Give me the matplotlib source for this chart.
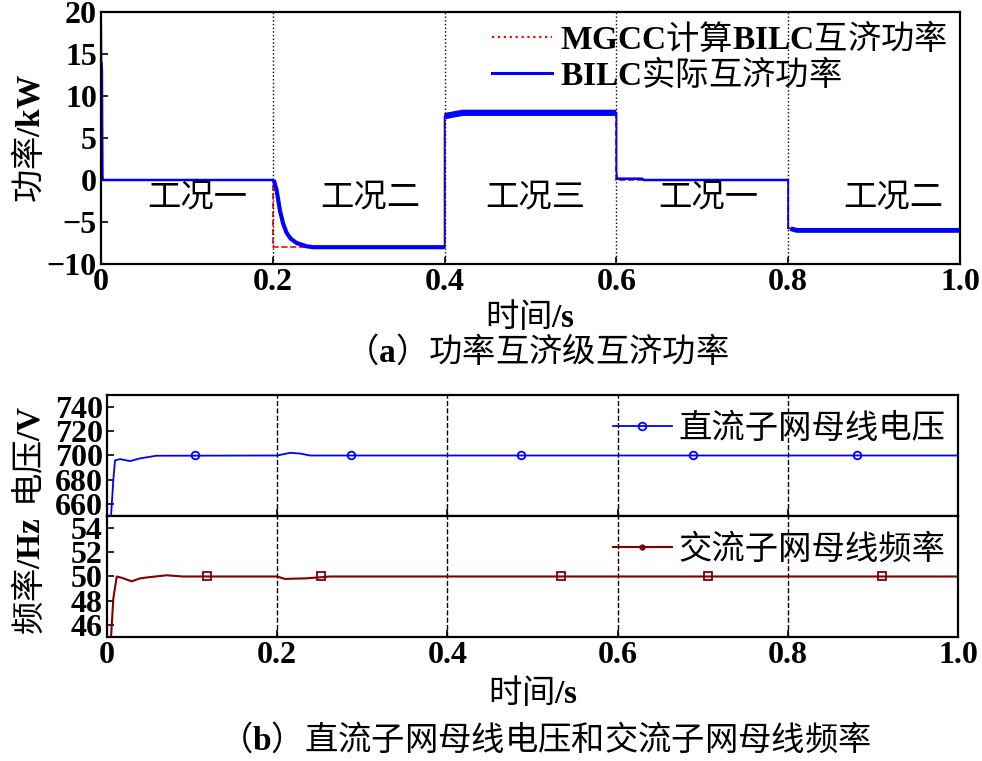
import matplotlib
matplotlib.use('Agg')
import matplotlib.pyplot as plt
import numpy as np
from matplotlib.lines import Line2D
from matplotlib.font_manager import FontProperties

plt.rcParams['font.family'] = ['Liberation Serif', 'Noto Sans CJK SC']
plt.rcParams['font.weight'] = 'bold'
plt.rcParams['mathtext.fontset'] = 'custom'
plt.rcParams['mathtext.rm'] = 'Liberation Serif'
plt.rcParams['mathtext.bf'] = 'Liberation Serif:bold'
plt.rcParams['axes.unicode_minus'] = True

# (a) 功率互济级互济功率
stage_t = [0, 0.2, 0.4, 0.6, 0.8, 1.0]
p_ref = [0, -8, 8, 0, -6]          # MGCC计算值
stage_names = ['工况一', '工况二', '工况三', '工况一', '工况二']
name_t = [0.112, 0.313, 0.505, 0.707, 0.922]
name_p = -2.0

# BILC实际互济功率
t_p = [0, 0.0005, 0.001, 0.0015, 0.002, 0.2, 0.2012, 0.2045, 0.2084, 0.212,
       0.216, 0.221, 0.2277, 0.2394, 0.247, 0.4, 0.4, 0.401, 0.41, 0.421,
       0.6, 0.6, 0.601, 0.63, 0.632, 0.8, 0.8, 0.803, 0.81, 1.0]
p_act = [20, 14, 13, 0.5, 0, 0, 0, -1.3, -3.7, -5.2,
         -6.3, -7.0, -7.5, -7.9, -8.0, -8.0, 7.6, 7.6, 7.8, 8.0,
         8.0, 1.0, 0.15, 0.15, 0, 0, -5.7, -5.8, -6.0, -6.0]
stage_lw = [1.8, 3.0, 4.5, 1.8, 3.5]

# (b) 直流子网母线电压 / 交流子网母线频率
t_v = [0.0047, 0.0074, 0.0094, 0.0153, 0.027, 0.0388, 0.058, 0.2, 0.215,
       0.227, 0.2385, 1.0]
v_dc = [650, 680, 696, 697, 695.4, 697.6, 699.8, 700, 702.2, 701.6, 700, 700]
mark_t_v = [0.103, 0.287, 0.486, 0.689, 0.881]
mark_v = [700, 700, 700, 700, 700]

t_f = [0.0047, 0.0074, 0.0114, 0.017, 0.029, 0.0388, 0.0505, 0.07, 0.089,
       0.2, 0.209, 0.2347, 0.262, 1.0, 1.0, 1.0]
f_ac = [45, 48.2, 50, 49.9, 49.6, 49.85, 49.95, 50.1, 50.0,
        50.0, 49.8, 49.85, 50.0, 50.0, 55, 45]
mark_t_f = [0.1175, 0.2515, 0.533, 0.706, 0.911]
mark_f = [50, 50, 50, 50, 50]

x_ticks = [0, 0.2, 0.4, 0.6, 0.8, 1.0]
x_ticklabels = ['0', '0.2', '0.4', '0.6', '0.8', '1.0']

cjk = FontProperties(family='Noto Sans CJK SC', size=24, weight='normal')
cjk_leg = FontProperties(family='Noto Sans CJK SC', size=24, weight='normal')
tick_fs = 23

fig = plt.figure(figsize=(9.82, 7.61), dpi=100)
ax1 = fig.add_axes([0.1029, 0.6531, 0.8747, 0.3311])
ax2 = fig.add_axes([0.109, 0.3220, 0.8666, 0.1589])
ax3 = fig.add_axes([0.109, 0.1629, 0.8666, 0.1591])


def style(ax):
    for s in ax.spines.values():
        s.set_linewidth(1.6)
    ax.tick_params(direction='in', length=5, width=1.2, labelsize=tick_fs,
                   pad=3, top=False, right=False)
    ax.set_xlim(0, 1.0)
    ax.set_xticks(x_ticks)


# ---- 上图 ----
style(ax1)
for x in stage_t[1:-1]:
    ax1.axvline(x, color='black', ls=':', lw=1.0)
ax1.stairs(p_ref, stage_t, baseline=None, color='red', ls='--', lw=1.2)
t_arr = np.array(t_p)
p_arr = np.array(p_act)
# 细线画全程（含跳变），各工况稳态段用粗线叠加表示纹波
ax1.plot(t_arr, p_arr, color='blue', lw=1.3)
for i in range(len(stage_lw)):
    i0 = np.searchsorted(t_arr, stage_t[i], side='right')
    i1 = np.searchsorted(t_arr, stage_t[i + 1], side='left')
    ax1.plot(t_arr[i0:i1 + 1], p_arr[i0:i1 + 1], color='blue',
             lw=stage_lw[i], solid_capstyle='butt')
ax1.set_ylim(-10, 20)
ax1.set_yticks([-10, -5, 0, 5, 10, 15, 20])
ax1.set_xticklabels(x_ticklabels)
for t, n in zip(name_t, stage_names):
    ax1.text(t, name_p, n, ha='center', va='center', fontproperties=cjk)
h1 = [Line2D([], [], color='red', ls=':', lw=1.6),
      Line2D([], [], color='blue', lw=2.2)]
ax1.legend(h1, [r'$\mathbf{MGCC}$计算$\mathbf{BILC}$互济功率',
                r'$\mathbf{BILC}$实际互济功率'],
           prop=cjk_leg, frameon=False, loc='center right',
           bbox_to_anchor=(0.986, 0.821), borderpad=0, borderaxespad=0,
           handlelength=1.8, handletextpad=0.25, labelspacing=0.0)

# ---- 下图：电压 ----
style(ax2)
for x in stage_t[1:-1]:
    ax2.axvline(x, color='black', ls='--', lw=1.0)
ax2.plot(t_v, v_dc, color='blue', lw=1.3)
ax2.plot(mark_t_v, mark_v, ls='none', marker='o', ms=5.5, mfc='none',
         mec='blue', mew=1.3)
ax2.set_ylim(650, 750)
ax2.set_yticks([660, 680, 700, 720, 740])
ax2.set_xticklabels([])
h2 = [Line2D([], [], color='blue', lw=1.3, marker='o', ms=5.5, mfc='none',
             mew=1.3)]
ax2.legend(h2, ['直流子网母线电压'], prop=cjk_leg, frameon=False,
           loc='center right', bbox_to_anchor=(0.985, 0.727), borderpad=0,
           borderaxespad=0, handlelength=1.75, handletextpad=0.2)

# ---- 下图：频率 ----
style(ax3)
for x in stage_t[1:-1]:
    ax3.axvline(x, color='black', ls='--', lw=1.0)
ax3.plot(t_f, f_ac, color='#800000', lw=1.5)
ax3.plot(mark_t_f, mark_f, ls='none', marker='s', ms=5.5, mfc='none',
         mec='#800000', mew=1.3)
ax3.set_ylim(45, 55)
ax3.set_yticks([46, 48, 50, 52, 54])
ax3.set_xticklabels(x_ticklabels)
h3 = [Line2D([], [], color='#800000', lw=1.5, marker='o', ms=3.5,
             mfc='#800000', mec='#800000')]
ax3.legend(h3, ['交流子网母线频率'], prop=cjk_leg, frameon=False,
           loc='center right', bbox_to_anchor=(0.985, 0.727), borderpad=0,
           borderaxespad=0, handlelength=1.75, handletextpad=0.2)

for ax in (ax1, ax2, ax3):
    for lab in ax.get_xticklabels() + ax.get_yticklabels():
        lab.set_fontweight('bold')

# 轴标题与图注
fig.text(0.031, 1 - 138 / 761, r'功率$\mathbf{/kW}$', rotation=90,
         ha='center', va='center', fontproperties=cjk)
fig.text(0.031, 1 - 456 / 761, r'电压$\mathbf{/V}$', rotation=90,
         ha='center', va='center', fontproperties=cjk)
fig.text(0.031, 1 - 576 / 761, r'频率$\mathbf{/Hz}$', rotation=90,
         ha='center', va='center', fontproperties=cjk)
fig.text(530 / 982, 1 - 318 / 761, r'时间$\mathrm{/s}$', ha='center',
         va='center', fontproperties=cjk)
fig.text(537 / 982, 1 - 352 / 761, r'（$\mathrm{a}$）功率互济级互济功率',
         ha='center', va='center', fontproperties=cjk)
fig.text(533 / 982, 1 - 693 / 761, r'时间$\mathrm{/s}$', ha='center',
         va='center', fontproperties=cjk)
fig.text(545 / 982, 1 - 740 / 761,
         r'（$\mathrm{b}$）直流子网母线电压和交流子网母线频率',
         ha='center', va='center', fontproperties=cjk)

fig.savefig('out.png', dpi=100)
